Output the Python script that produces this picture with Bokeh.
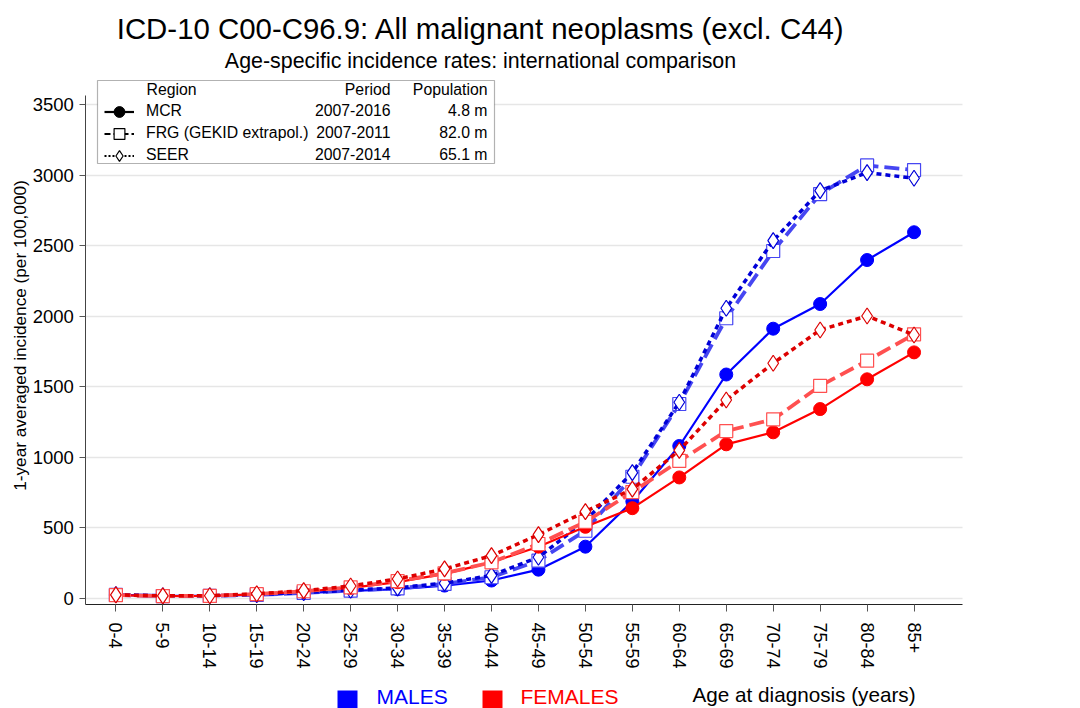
import math
from bokeh.plotting import figure
from bokeh.models import (FixedTicker, Range1d, Label, BoxAnnotation, Legend, LegendItem,
                          ColumnDataSource)
from bokeh.embed import file_html
from bokeh.resources import INLINE

# ---------------- data ----------------
ages = ["0-4", "5-9", "10-14", "15-19", "20-24", "25-29", "30-34", "35-39", "40-44",
        "45-49", "50-54", "55-59", "60-64", "65-69", "70-74", "75-79", "80-84", "85+"]

males_mcr = [22, 15, 16, 22, 35, 50, 62, 88, 124, 201, 364, 685, 1078, 1585, 1910, 2085, 2397, 2594]
males_frg = [22, 14, 15, 22, 36, 52, 68, 100, 147, 265, 477, 860, 1376, 1984, 2461, 2865, 3068, 3035]
males_seer = [24, 16, 16, 24, 38, 55, 72, 105, 160, 289, 548, 889, 1388, 2055, 2534, 2889, 3017, 2977]
females_mcr = [20, 14, 15, 26, 46, 72, 112, 171, 253, 364, 505, 637, 855, 1090, 1175, 1340, 1551, 1742]
females_frg = [20, 14, 15, 28, 48, 76, 120, 175, 253, 383, 540, 751, 972, 1184, 1267, 1504, 1683, 1870]
females_seer = [22, 15, 16, 30, 52, 85, 135, 206, 300, 449, 613, 772, 1047, 1404, 1665, 1901, 2000, 1865]

y_ticks = [0, 500, 1000, 1500, 2000, 2500, 3000, 3500]

regions = ["MCR", "FRG (GEKID extrapol.)", "SEER"]
periods = ["2007-2016", "2007-2011", "2007-2014"]
populations = ["4.8 m", "82.0 m", "65.1 m"]

title_text = "ICD-10 C00-C96.9: All malignant neoplasms (excl. C44)"
subtitle_text = "Age-specific incidence rates: international comparison"
y_label = "1-year averaged incidence (per 100,000)"
x_label = "Age at diagnosis (years)"

FONT = "Liberation Sans"
LEG_FS = "15.8px"

# ---------------- geometry (pixels) ----------------
W, H = 1080, 708
X0_PX, X_STEP = 115.4, 46.95          # pixel of first age group, pixels per group
Y0_PX, Y_SCALE = 597.5, 493.5 / 3500  # pixel of value 0, pixels per unit
AX_LEFT_PX, AX_RIGHT_PX = 85.4, 962.0
AX_TOP_PX, AX_BOTTOM_PX = 95.0, 604.0


def xv(px):
    return (px - X0_PX) / X_STEP


def yv(py):
    return (Y0_PX - py) / Y_SCALE


p = figure(width=W, height=H, output_backend="svg", toolbar_location=None,
           x_range=Range1d(xv(0), xv(W)), y_range=Range1d(yv(H), yv(0)),
           min_border=0, min_border_left=0, min_border_right=0,
           min_border_top=0, min_border_bottom=0)
p.title = None
p.outline_line_color = None
p.background_fill_color = "white"
p.border_fill_color = "white"

x = list(range(len(ages)))

# axes, pinned at their places inside the canvas
p.xaxis.fixed_location = yv(AX_BOTTOM_PX)
p.xaxis.bounds = (xv(AX_LEFT_PX), xv(AX_RIGHT_PX))
p.xaxis.ticker = FixedTicker(ticks=x)
p.xaxis.major_label_overrides = {i: a for i, a in enumerate(ages)}
p.xaxis.major_label_orientation = -math.pi / 2
p.xaxis.major_label_text_font = FONT
p.xaxis.major_label_text_font_size = "18px"
p.xaxis.major_label_text_color = "black"
p.xaxis.major_tick_out = 7
p.xaxis.major_tick_in = 0
p.xaxis.minor_tick_line_color = None
p.xaxis.major_label_standoff = 11
p.xaxis.axis_line_color = "#222222"
p.xaxis.major_tick_line_color = "#555555"

p.yaxis.fixed_location = xv(AX_LEFT_PX)
p.yaxis.bounds = (yv(AX_BOTTOM_PX), yv(AX_TOP_PX))
p.yaxis.ticker = FixedTicker(ticks=y_ticks)
p.yaxis.major_label_text_font = FONT
p.yaxis.major_label_text_font_size = "18.5px"
p.yaxis.major_label_text_color = "black"
p.yaxis.major_tick_out = 6
p.yaxis.major_tick_in = 0
p.yaxis.minor_tick_line_color = None
p.yaxis.major_label_standoff = 6
p.yaxis.axis_line_color = "#444444"
p.yaxis.major_tick_line_color = "#555555"

p.xgrid.visible = False
p.ygrid.grid_line_color = "#e6e6e6"
p.ygrid.grid_line_width = 1.5
p.ygrid.cross_bounds = (xv(AX_LEFT_PX), xv(AX_RIGHT_PX))
p.ygrid.bounds = (yv(AX_BOTTOM_PX), yv(AX_TOP_PX))


# ---------------- series ----------------
def series(vals, color, style):
    src = ColumnDataSource(dict(x=x, y=vals))
    if style == "mcr":
        p.line("x", "y", source=src, line_color=color, line_width=2.2)
        p.scatter("x", "y", source=src, marker="circle", size=13, fill_color=color, line_color=color)
    elif style == "frg":
        p.line("x", "y", source=src, line_color=color, line_width=3.8, line_dash="15 6")
        p.scatter("x", "y", source=src, marker="square", size=13, fill_color="white",
                  line_color=color, line_width=1.2)
    else:
        p.line("x", "y", source=src, line_color=color, line_width=3.5, line_dash="5 4")
        p.scatter("x", "y", source=src, marker="diamond", size=16, fill_color="white",
                  line_color=color, line_width=1.2)


series(males_mcr, "#0000ff", "mcr")
series(males_frg, "#4646f2", "frg")
series(males_seer, "#0000d8", "seer")
series(females_mcr, "#ff0000", "mcr")
series(females_frg, "#ff5050", "frg")
series(females_seer, "#dd0000", "seer")


# ---------------- text / annotations (screen pixels; the frame is the whole canvas) ----------------
def lab(text, px, py, size, color="black", align="left", baseline="middle", angle=0.0):
    p.add_layout(Label(x=px, y=H - py, x_units="screen", y_units="screen", text=text,
                       text_font=FONT, text_font_size=size, text_color=color,
                       text_align=align, text_baseline=baseline, angle=angle))


def box(l, r, t, b, fill, line):
    p.add_layout(BoxAnnotation(left=l, right=r, top=H - t, bottom=H - b,
                               left_units="screen", right_units="screen",
                               top_units="screen", bottom_units="screen",
                               fill_color=fill, fill_alpha=1.0,
                               line_color=line, line_width=1.2))


# titles
lab(title_text, 480.5, 28, "29.4px", align="center")
lab(subtitle_text, 480, 60, "21.4px", align="center")
lab(y_label, 19, 335, "17.2px", align="center", angle=math.pi / 2)

# legend box (top-left)
box(97, 494, 80, 163, "white", "black")
lab("Region", 146, 89, LEG_FS)
lab("Period", 390, 89, LEG_FS, align="right")
lab("Population", 487, 89, LEG_FS, align="right")
row_y = [111, 133, 155]
for ry, per, pop in zip(row_y, periods, populations):
    lab(per, 390, ry - 1.5, LEG_FS, align="right")
    lab(pop, 487, ry - 1.5, LEG_FS, align="right")

# legend samples (black proxies, nothing drawn in the plot)
nan = float("nan")
proxies = [
    (p.line(x=[nan], y=[nan], line_color="black", line_width=2.2),
     p.scatter(x=[nan], y=[nan], marker="circle", size=12, fill_color="black", line_color="black")),
    (p.line(x=[nan], y=[nan], line_color="black", line_width=2, line_dash="6 3"),
     p.scatter(x=[nan], y=[nan], marker="square", size=12, fill_color="white", line_color="black",
               line_width=1.2)),
    (p.line(x=[nan], y=[nan], line_color="black", line_width=2, line_dash="2 2"),
     p.scatter(x=[nan], y=[nan], marker="diamond", size=14, fill_color="white", line_color="black",
               line_width=1.2)),
]
GH = 27
for name, (ln, mk), ry in zip(regions, proxies, row_y):
    p.add_layout(Legend(items=[LegendItem(label=name, renderers=[ln, mk])],
                        location=(104, H - (ry + GH / 2)), padding=0, margin=0, spacing=0,
                        glyph_width=30, glyph_height=GH, label_height=GH, label_standoff=12,
                        label_text_font=FONT, label_text_font_size=LEG_FS,
                        label_text_color="black",
                        border_line_color=None, background_fill_alpha=0.0))

# bottom sex legend
box(337, 357, 690, 708, "#0000ff", None)
box(482, 502, 690, 708, "#ff0000", None)
lab("MALES", 376, 696, "21px", color="#0000ff")
lab("FEMALES", 520, 696, "21px", color="#ff0000")
lab(x_label, 692, 694, "20.7px")

open("out.html", "w").write(file_html(p, INLINE))
